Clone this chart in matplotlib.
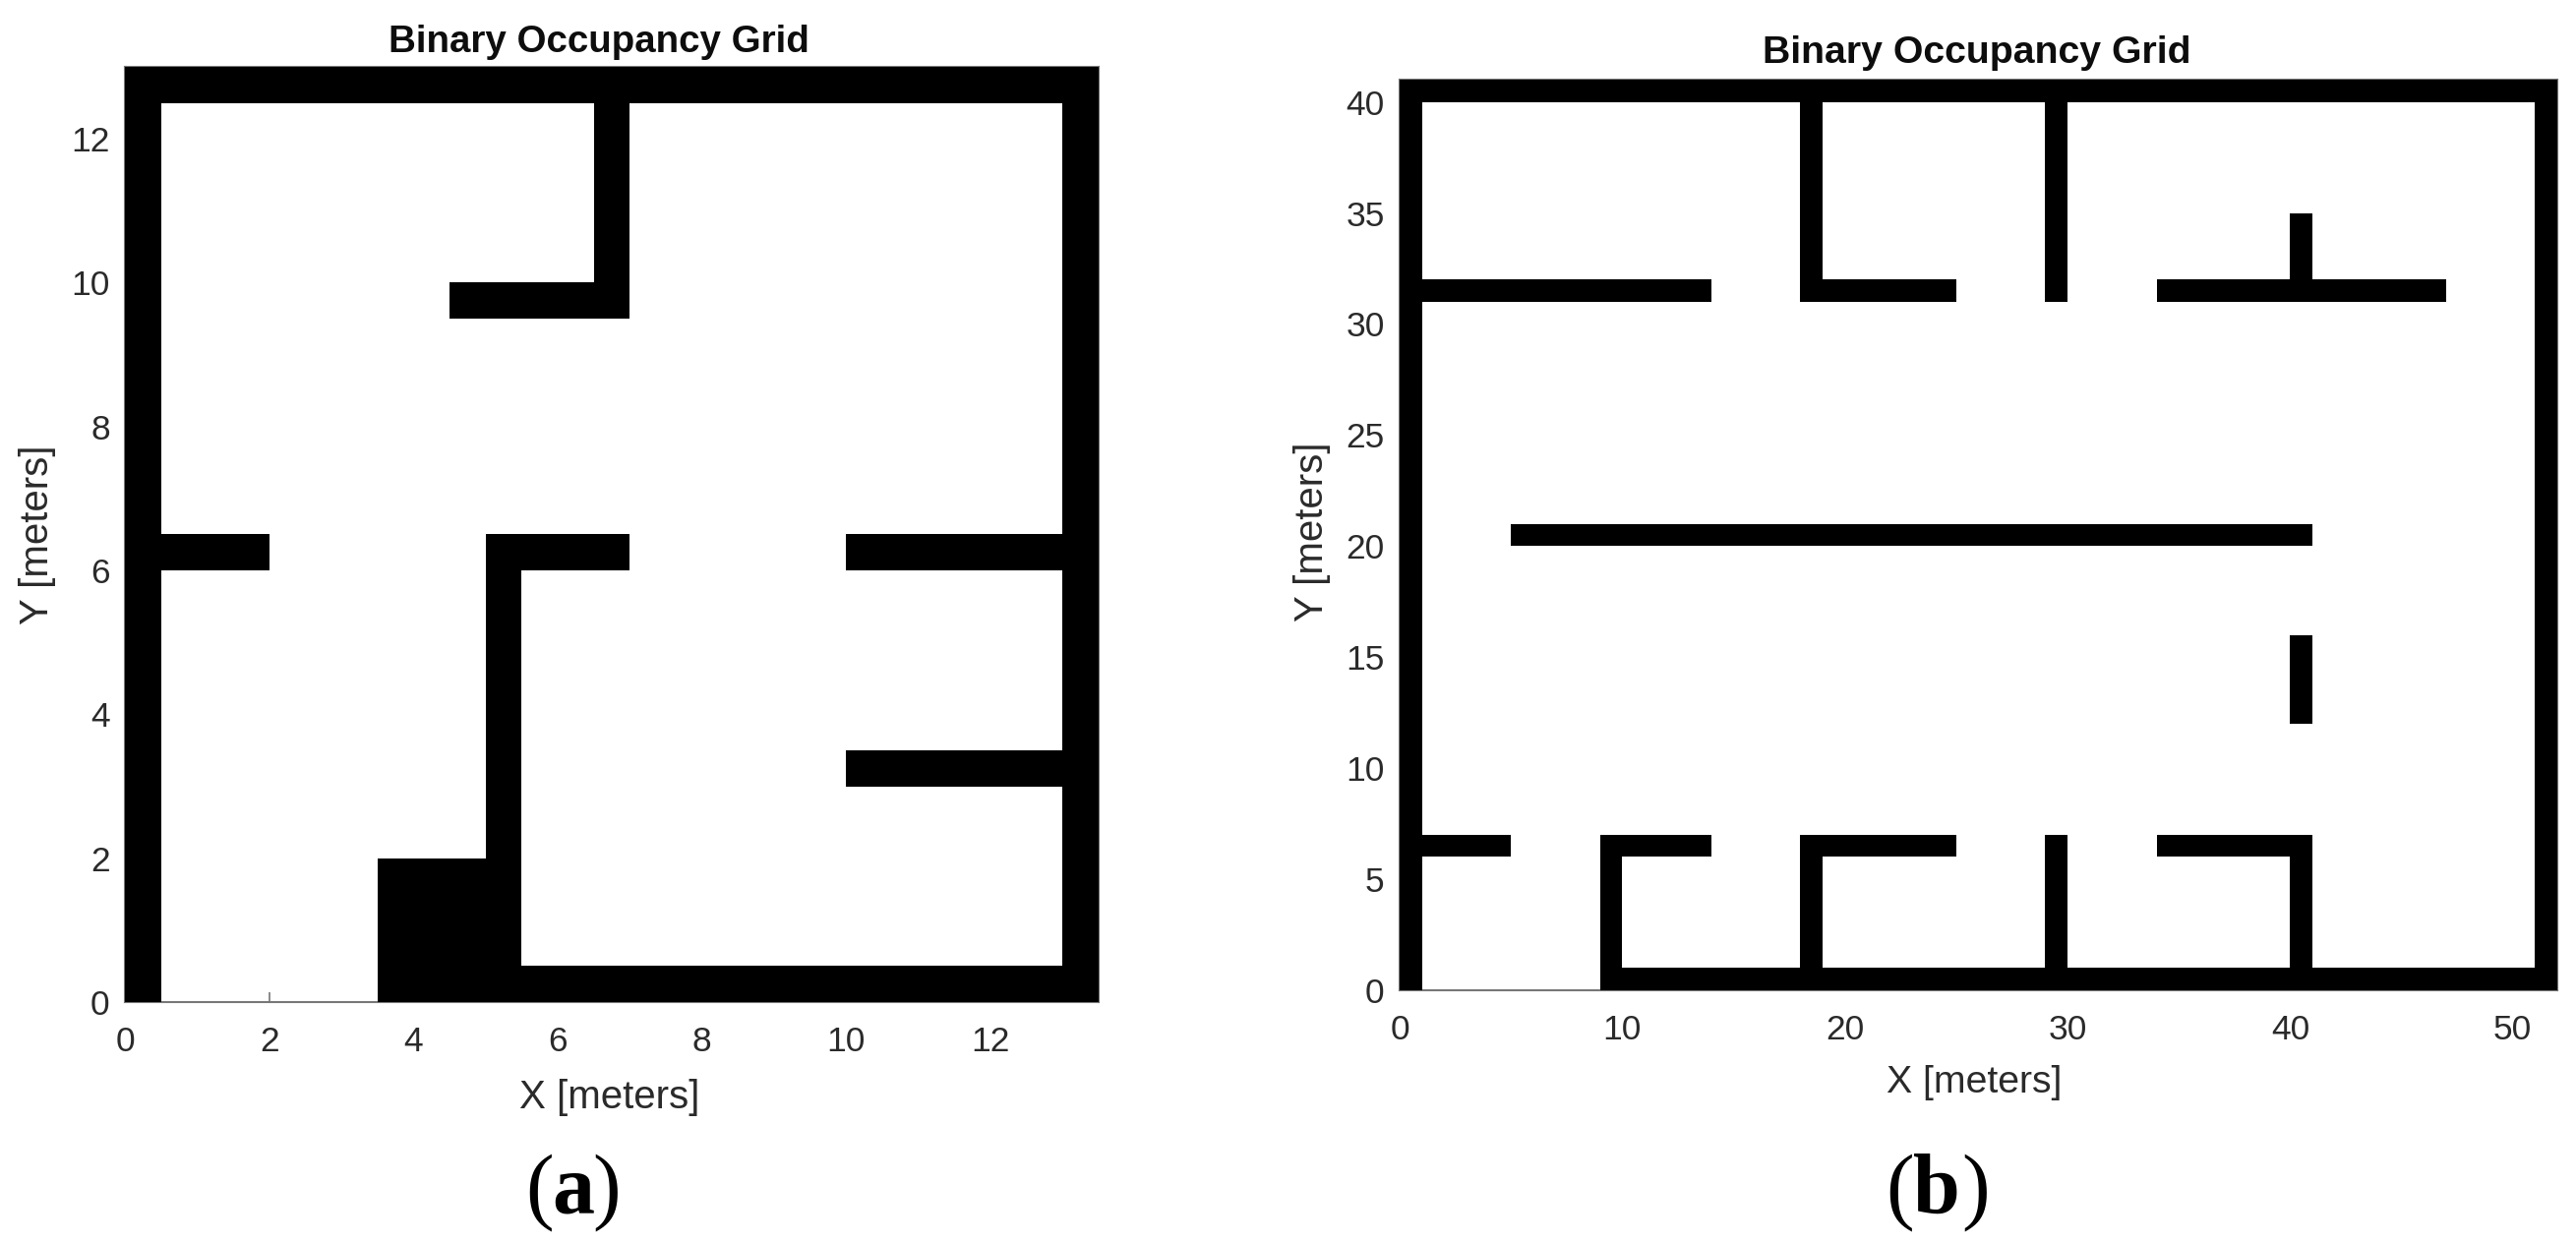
import matplotlib
matplotlib.use("Agg")
import matplotlib.pyplot as plt

W, H = 2619, 1264
TITLE = "Binary Occupancy Grid"
XLABEL = "X [meters]"
YLABEL = "Y [meters]"

# walls as (x0, x1, y0, y1) in meters
walls_a = [
    (0, 0.5, 0, 13), (13, 13.5, 0, 13), (0, 13.5, 12.5, 13), (3.5, 13.5, 0, 0.5),
    (6.5, 7, 9.5, 12.5), (4.5, 7, 9.5, 10), (0.5, 2, 6, 6.5), (5, 5.5, 0, 6.5),
    (5, 7, 6, 6.5), (10, 13, 6, 6.5), (10, 13, 3, 3.5), (3.5, 5.5, 0, 2),
]
walls_b = [
    (0, 1, 0, 41), (51, 52, 0, 41), (0, 52, 40, 41), (9, 52, 0, 1),
    (18, 19, 31, 40), (29, 30, 31, 40), (1, 14, 31, 32), (18, 25, 31, 32),
    (34, 47, 31, 32), (40, 41, 31, 35), (5, 41, 20, 21), (40, 41, 12, 16),
    (1, 5, 6, 7), (9, 14, 6, 7), (18, 25, 6, 7), (34, 41, 6, 7),
    (9, 10, 0, 7), (18, 19, 0, 7), (29, 30, 0, 7), (40, 41, 0, 7),
]
xticks_a = [0, 2, 4, 6, 8, 10, 12]
yticks_a = [0, 2, 4, 6, 8, 10, 12]
xticks_b = [0, 10, 20, 30, 40, 50]
yticks_b = [0, 5, 10, 15, 20, 25, 30, 35, 40]

plt.rcParams['font.family'] = ['Liberation Sans', 'DejaVu Sans']
fig = plt.figure(figsize=(W / 100, H / 100), dpi=100, facecolor='white')


def fx(p):
    return p / W


def fy(p):
    return 1 - p / H


def panel(box, walls, xlim, ylim, xt, yt):
    l, r, t, b = box
    ax = fig.add_axes([fx(l), fy(b), (r - l) / W, (b - t) / H])
    for x0, x1, y0, y1 in walls:
        ax.bar(x0, y1 - y0, width=x1 - x0, bottom=y0, align='edge', color='black',
               linewidth=0, zorder=3)
    ax.set_xlim(*xlim)
    ax.set_ylim(*ylim)
    ax.set_xticks(xt)
    ax.set_yticks(yt)
    ax.tick_params(direction='in', length=7, width=1.2, color='#777777',
                   labelsize=25.5, labelcolor='#2a2a2a')
    ax.tick_params(axis='x', pad=17)
    ax.tick_params(axis='y', pad=11)
    for s in ax.spines.values():
        s.set_color('#777777')
        s.set_linewidth(1.5)
    return ax


panel((127, 1117, 68, 1019), walls_a, (0, 13.5), (0, 13), xticks_a, yticks_a)
panel((1423, 2600, 81, 1007), walls_b, (0, 52), (0, 41), xticks_b, yticks_b)


def label(x, y, s, **kw):
    fig.text(fx(x), fy(y), s, ha='center', va='center', **kw)


label(608.5, 43, TITLE, fontsize=27.7, fontweight='bold', color='#0d0d0d')
label(2010, 54, TITLE, fontsize=28.3, fontweight='bold', color='#0d0d0d')
label(620, 1116, XLABEL, fontsize=29, color='#2a2a2a')
label(2007, 1101, XLABEL, fontsize=28.3, color='#2a2a2a')
label(38, 544, YLABEL, fontsize=29, color='#2a2a2a', rotation=90)
label(1334, 541, YLABEL, fontsize=29, color='#2a2a2a', rotation=90)


def caption(cx, dl, dr, letter):
    fam = ['Liberation Serif', 'DejaVu Serif']
    base = 1233
    for x, s, w in [(cx - dl, "(", 'normal'), (cx, letter, 'bold'), (cx + dr, ")", 'normal')]:
        fig.text(fx(x), fy(base), s, ha='center', va='baseline', fontsize=62,
                 color='black', family=fam, fontweight=w)


caption(583, 34, 34, "a")
caption(1969, 37, 40, "b")

fig.savefig("out.png", dpi=100, facecolor='white')
